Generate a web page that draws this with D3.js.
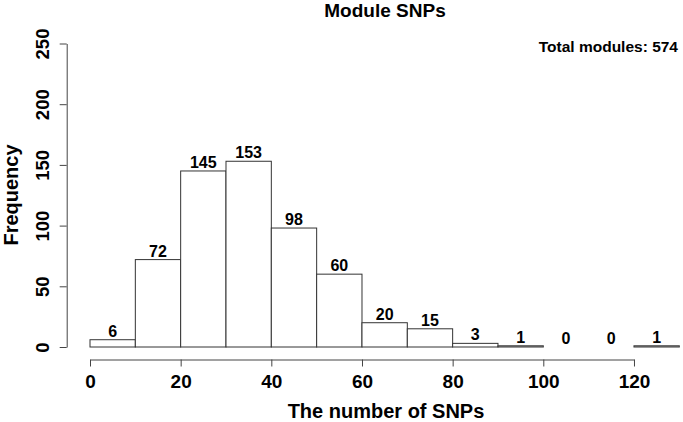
<!DOCTYPE html>
<html>
<head>
<meta charset="utf-8">
<script src="https://cdn.jsdelivr.net/npm/d3@7"></script>
<style>
  body { margin: 0; background: #fff; }
  text { font-family: "Liberation Sans", Arial, sans-serif; font-weight: bold; fill: #000; }
</style>
</head>
<body>
<div id="chart"></div>
<script>
// histogram of SNPs per module, bins of width 10
const binStarts = [0, 10, 20, 30, 40, 50, 60, 70, 80, 90, 100, 110, 120];
const binWidth = 10;
const counts = [6, 72, 145, 153, 98, 60, 20, 15, 3, 1, 0, 0, 1];
const xTicks = [0, 20, 40, 60, 80, 100, 120];
const yTicks = [0, 50, 100, 150, 200, 250];

const W = 683, H = 422;

const svg = d3.select("#chart").append("svg")
  .attr("width", W)
  .attr("height", H);

const xScale = d3.scaleLinear().domain([0, 130]).range([90, 679.3]);
const yScale = d3.scaleLinear().domain([0, 250]).range([347, 43.5]);

// bars
svg.append("g").selectAll("rect")
  .data(binStarts)
  .join("rect")
  .attr("x", d => xScale(d))
  .attr("y", (d, i) => yScale(counts[i]))
  .attr("width", d => xScale(d + binWidth) - xScale(d))
  .attr("height", (d, i) => yScale(0) - yScale(counts[i]))
  .attr("fill", "#fff")
  .attr("stroke", "#333")
  .attr("stroke-width", 1);

// count labels
svg.append("g").selectAll("text")
  .data(binStarts)
  .join("text")
  .attr("x", d => xScale(d + binWidth / 2))
  .attr("y", (d, i) => yScale(counts[i]) - 3)
  .attr("text-anchor", "middle")
  .style("font-size", "16px")
  .text((d, i) => counts[i]);

// x axis (drawn 0..120 like R)
const xAxisScale = xScale.copy().domain([0, 120]).range([xScale(0), xScale(120)]);
const xAxis = svg.append("g")
  .attr("transform", "translate(0,359.5)")
  .call(d3.axisBottom(xAxisScale).tickValues(xTicks).tickSize(7).tickSizeOuter(0).tickPadding(5));
xAxis.selectAll("path, line").attr("stroke", "#444");
xAxis.selectAll("text").style("font-size", "19px").attr("dy", "0.88em");

// y axis with rotated labels
const yAxis = svg.append("g")
  .attr("transform", "translate(66.7,0)")
  .call(d3.axisLeft(yScale).tickValues(yTicks).tickSize(7).tickSizeOuter(0));
yAxis.selectAll("path, line").attr("stroke", "#444");
yAxis.selectAll("text")
  .attr("x", null)
  .attr("dy", null)
  .attr("text-anchor", "middle")
  .attr("transform", "translate(-17.5,0) rotate(-90)")
  .style("font-size", "18.5px");

// titles
svg.append("text")
  .attr("x", 385).attr("y", 17)
  .attr("text-anchor", "middle")
  .style("font-size", "19px")
  .text("Module SNPs");

svg.append("text")
  .attr("x", 386).attr("y", 418)
  .attr("text-anchor", "middle")
  .style("font-size", "20px")
  .text("The number of SNPs");

svg.append("text")
  .attr("transform", "translate(18,195) rotate(-90)")
  .attr("text-anchor", "middle")
  .style("font-size", "20px")
  .text("Frequency");

svg.append("text")
  .attr("x", 678).attr("y", 52)
  .attr("text-anchor", "end")
  .style("font-size", "15.5px")
  .text("Total modules: 574");
</script>
</body>
</html>
